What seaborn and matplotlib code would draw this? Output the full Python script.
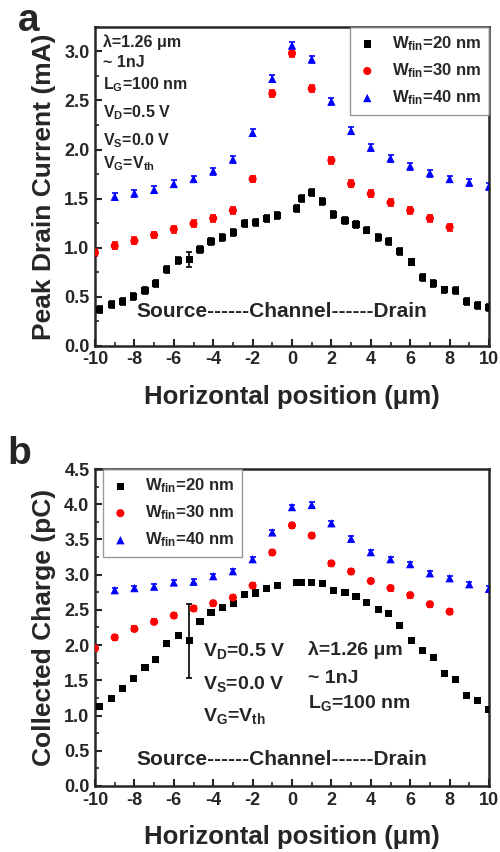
import matplotlib
matplotlib.use('Agg')
import matplotlib.pyplot as plt
import numpy as np
import seaborn as sns

# positions (um)
X_BLACK = [-9.75, -9.15, -8.6, -8.05, -7.46, -6.92, -6.36, -5.77, -5.21, -4.67, -4.11, -3.54,
           -2.98, -2.39, -1.84, -1.29, -0.74, 0.24, 0.49, 1.0, 1.54, 2.1, 2.69, 3.25,
           3.79, 4.38, 4.92, 5.48, 6.07, 6.63, 7.17, 7.73, 8.31, 8.87, 9.42, 10.0]
X_RED = [-10, -9, -8, -7, -6, -5, -4, -3, -2, -1, 0, 1, 2, 3, 4, 5, 6, 7, 8]
X_BLUE = [-9, -8, -7, -6, -5, -4, -3, -2, -1, 0, 1, 2, 3, 4, 5, 6, 7, 8, 9, 10]

# panel a: peak drain current (mA)
CUR_20 = [0.37, 0.425, 0.45, 0.50, 0.565, 0.635, 0.78, 0.87, 0.88, 0.985, 1.06, 1.10,
          1.155, 1.245, 1.26, 1.30, 1.33, 1.40, 1.50, 1.56, 1.47, 1.34, 1.28, 1.24,
          1.18, 1.10, 1.065, 0.96, 0.855, 0.695, 0.635, 0.57, 0.56, 0.45, 0.41, 0.39]
CUR_30 = [0.95, 1.02, 1.07, 1.13, 1.19, 1.245, 1.30, 1.38, 1.70, 2.57, 2.98, 2.62,
          1.89, 1.65, 1.55, 1.46, 1.38, 1.30, 1.21]
CUR_40 = [1.52, 1.555, 1.59, 1.65, 1.70, 1.78, 1.90, 2.17, 2.72, 3.06, 2.92, 2.49,
          2.19, 2.02, 1.91, 1.83, 1.76, 1.70, 1.665, 1.625]

# panel b: collected charge (pC)
CHG_20 = [1.13, 1.24, 1.38, 1.52, 1.68, 1.80, 2.02, 2.14, 2.06, 2.34, 2.46, 2.53,
          2.595, 2.72, 2.74, 2.80, 2.845, 2.89, 2.89, 2.89, 2.88, 2.78, 2.75, 2.69,
          2.60, 2.51, 2.45, 2.28, 2.06, 1.92, 1.83, 1.60, 1.515, 1.29, 1.22, 1.09]
CHG_30 = [1.955, 2.11, 2.23, 2.33, 2.42, 2.52, 2.595, 2.675, 2.845, 3.315, 3.70, 3.555,
          3.16, 3.045, 2.91, 2.81, 2.71, 2.58, 2.475]
CHG_40 = [2.78, 2.81, 2.83, 2.89, 2.90, 2.98, 3.05, 3.22, 3.60, 3.96, 3.99, 3.73,
          3.51, 3.32, 3.22, 3.15, 3.02, 2.95, 2.865, 2.80]

# error bars: small everywhere, one large representative bar on the 20 nm series
ERR_SMALL = 0.035
ERR_CUR_20 = [ERR_SMALL] * 8 + [0.08] + [ERR_SMALL] * 27
ERR_CHG_20 = [ERR_SMALL] * 8 + [0.52] + [ERR_SMALL] * 27

LABELS = ['W$_{\\mathregular{fin}}$=20 nm', 'W$_{\\mathregular{fin}}$=30 nm',
          'W$_{\\mathregular{fin}}$=40 nm']

sns.set_style('ticks')
plt.rcParams['font.family'] = ['Liberation Sans', 'DejaVu Sans']
plt.rcParams['font.weight'] = 'bold'
plt.rcParams['axes.labelweight'] = 'bold'
plt.rcParams['axes.unicode_minus'] = False
plt.rcParams['mathtext.fontset'] = 'custom'
plt.rcParams['mathtext.rm'] = 'Liberation Sans:bold'
plt.rcParams['mathtext.it'] = 'Liberation Sans:bold'
plt.rcParams['mathtext.bf'] = 'Liberation Sans:bold'
plt.rcParams['mathtext.default'] = 'regular'


def draw_series(ax, x, y, err, color, marker, label, size):
    ax.errorbar(x, y, yerr=err, fmt='none', ecolor=color, elinewidth=1.2,
                capsize=2.4, capthick=1.2, zorder=2)
    sns.scatterplot(x=x, y=y, ax=ax, color=color, marker=marker, s=size,
                    edgecolor='none', label=label, zorder=3)


def style_axes(ax, ymax, ylabel):
    ax.set_xlim(-10, 10)
    ax.set_ylim(0, ymax)
    ax.set_xticks(np.arange(-10, 11, 2))
    ax.set_xticks(np.arange(-10, 11, 1), minor=True)
    ax.set_yticks(np.arange(0, ymax + 0.01, 0.5))
    ax.set_yticks(np.arange(0, ymax + 0.01, 0.25), minor=True)
    ax.yaxis.set_major_formatter(matplotlib.ticker.FormatStrFormatter('%.1f'))
    ax.tick_params(which='major', direction='in', length=5, width=1.5, labelsize=13, pad=4)
    ax.tick_params(which='minor', direction='in', length=3, width=1.2)
    for lab in ax.get_xticklabels() + ax.get_yticklabels():
        lab.set_fontweight('bold')
    for sp in ax.spines.values():
        sp.set_linewidth(1.8)
        sp.set_visible(True)
    ax.set_xlabel('Horizontal position (\u03bcm)', fontsize=18.5, fontweight='bold', labelpad=12)
    ax.set_ylabel(ylabel, fontsize=19, fontweight='bold', labelpad=6)


def add_legend(ax, **kw):
    leg = ax.legend(borderaxespad=0, fontsize=12, frameon=True, fancybox=False,
                    edgecolor='gray', handletextpad=0.9, labelspacing=0.5,
                    borderpad=0.45, handlelength=1.2, **kw)
    leg.get_frame().set_linewidth(1.0)


fig = plt.figure(figsize=(5.0, 8.52), dpi=100)
ax_a = fig.add_axes([0.19, 0.594, 0.788, 0.3745])
ax_b = fig.add_axes([0.19, 0.0775, 0.788, 0.372])

# panel a
draw_series(ax_a, X_BLACK, CUR_20, ERR_CUR_20, 'black', 's', LABELS[0], 26)
draw_series(ax_a, X_RED, CUR_30, ERR_SMALL, 'red', 'o', LABELS[1], 34)
draw_series(ax_a, X_BLUE, CUR_40, ERR_SMALL, 'blue', '^', LABELS[2], 36)
style_axes(ax_a, 3.25, 'Peak Drain Current (mA)')
add_legend(ax_a, loc='upper right')

ann_a = ['\u03bb=1.26 \u03bcm', '~ 1nJ', 'L$_{G}$=100 nm', 'V$_{D}$=0.5 V',
         'V$_{S}$=0.0 V', 'V$_{G}$=V$_{th}$']
ann_a_y = [0.937, 0.875, 0.803, 0.718, 0.630, 0.558]
for t, yy in zip(ann_a, ann_a_y):
    ax_a.text(0.02, yy, t, transform=ax_a.transAxes, fontsize=11.5,
              fontweight='bold', va='baseline', ha='left')
ax_a.text(-0.5, 0.35, 'Source------Channel------Drain', fontsize=15, fontweight='bold',
          ha='center', va='center')
fig.text(0.035, 0.975, 'a', fontsize=28, fontweight='bold', va='center')

# panel b
draw_series(ax_b, X_BLACK, CHG_20, ERR_CHG_20, 'black', 's', LABELS[0], 26)
draw_series(ax_b, X_RED, CHG_30, ERR_SMALL, 'red', 'o', LABELS[1], 34)
draw_series(ax_b, X_BLUE, CHG_40, ERR_SMALL, 'blue', '^', LABELS[2], 36)
style_axes(ax_b, 4.5, 'Collected Charge (pC)')
add_legend(ax_b, loc='upper left', bbox_to_anchor=(0.02, 1.0))

ann_b_left = ['V$_{D}$=0.5 V', 'V$_{S}$=0.0 V', 'V$_{G}$=V$_{th}$']
ann_b_left_y = [1.85, 1.37, 0.92]
for t, yy in zip(ann_b_left, ann_b_left_y):
    ax_b.text(-4.5, yy, t, fontsize=14, fontweight='bold', va='baseline', ha='left')
ann_b_right = ['\u03bb=1.26 \u03bcm', '~ 1nJ', 'L$_{G}$=100 nm']
ann_b_right_y = [1.86, 1.46, 1.11]
for t, yy in zip(ann_b_right, ann_b_right_y):
    ax_b.text(0.8, yy, t, fontsize=14, fontweight='bold', va='baseline', ha='left')
ax_b.text(-0.5, 0.37, 'Source------Channel------Drain', fontsize=15, fontweight='bold',
          ha='center', va='center')
fig.text(0.015, 0.467, 'b', fontsize=28, fontweight='bold', va='center')

fig.savefig('out.png', dpi=100)
